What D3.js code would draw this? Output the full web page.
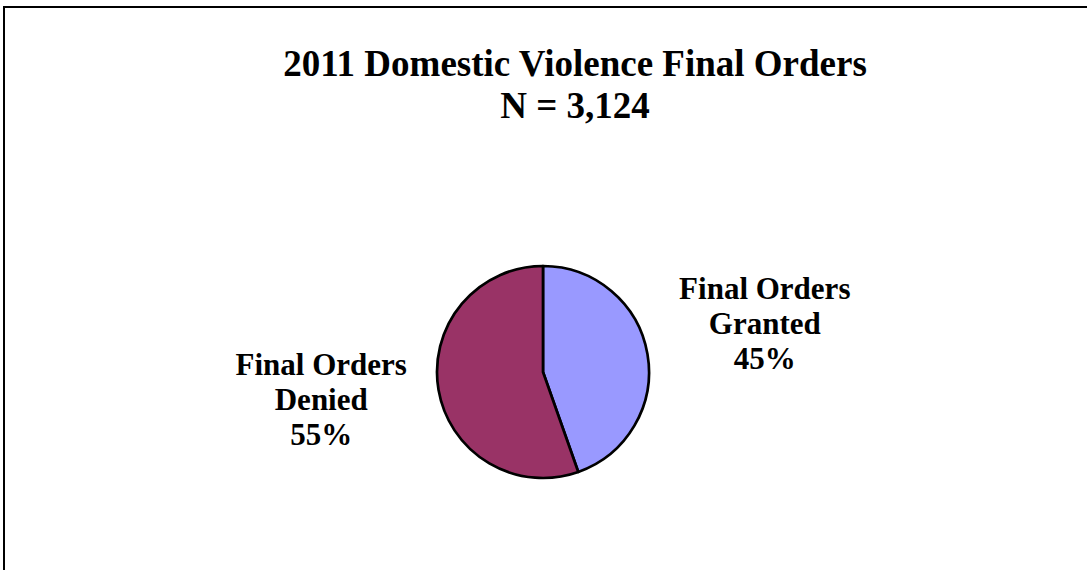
<!DOCTYPE html>
<html>
<head>
<meta charset="utf-8">
<script src="https://cdn.jsdelivr.net/npm/d3@7"></script>
<style>
  html, body { margin: 0; padding: 0; background: #fff; overflow: hidden; }
  svg { display: block; }
  text { font-family: "Liberation Serif", "Times New Roman", serif; font-weight: bold; fill: #000; }
</style>
</head>
<body>
<svg id="chart" width="1087" height="570"></svg>
<script>
// ---- data ----
const titleLines = ["2011 Domestic Violence Final Orders", "N = 3,124"];
const categories = ["Final Orders Granted", "Final Orders Denied"];
const labelLines = [["Final Orders", "Granted"], ["Final Orders", "Denied"]];
const shares = [44.6, 55.4]; // percent of final orders
const colors = ["#9999FF", "#993366"];

// ---- layout ----
const svg = d3.select("#chart");

// chart area border (extends beyond the right and bottom edges)
svg.append("rect")
  .attr("x", 4).attr("y", 7)
  .attr("width", 1200).attr("height", 700)
  .attr("fill", "#fff")
  .attr("stroke", "#000")
  .attr("stroke-width", 2);

// title
svg.append("g").selectAll("text")
  .data(titleLines)
  .join("text")
  .attr("x", 575)
  .attr("y", (d, i) => 76 + i * 42)
  .attr("text-anchor", "middle")
  .style("font-size", "37px")
  .text(d => d);

// pie
const cx = 543, cy = 372, r = 106;
const pie = d3.pie().sort(null).value(d => d.value);
const data = categories.map((c, i) => ({ name: c, value: shares[i], color: colors[i], lines: labelLines[i] }));
const arcs = pie(data);
const arc = d3.arc().innerRadius(0).outerRadius(r);
const labelArc = d3.arc().innerRadius(225).outerRadius(225);

const g = svg.append("g").attr("transform", `translate(${cx},${cy})`);
g.selectAll("path")
  .data(arcs)
  .join("path")
  .attr("d", arc)
  .attr("fill", d => d.data.color)
  .attr("stroke", "#000")
  .attr("stroke-width", 2.7)
  .attr("stroke-linejoin", "round");

const total = d3.sum(shares);
const fmt = d3.format(".0%");
const lab = g.selectAll("g.lab")
  .data(arcs)
  .join("g")
  .attr("class", "lab")
  .attr("transform", d => {
    const [x, y] = labelArc.centroid(d);
    return `translate(${x},${y})`;
  });
lab.selectAll("text")
  .data(d => [...d.data.lines, fmt(d.data.value / total)])
  .join("text")
  .attr("x", 0)
  .attr("y", (d, i) => (i - 1) * 35)
  .attr("text-anchor", "middle")
  .style("font-size", "31px")
  .text(d => d);
</script>
</body>
</html>
